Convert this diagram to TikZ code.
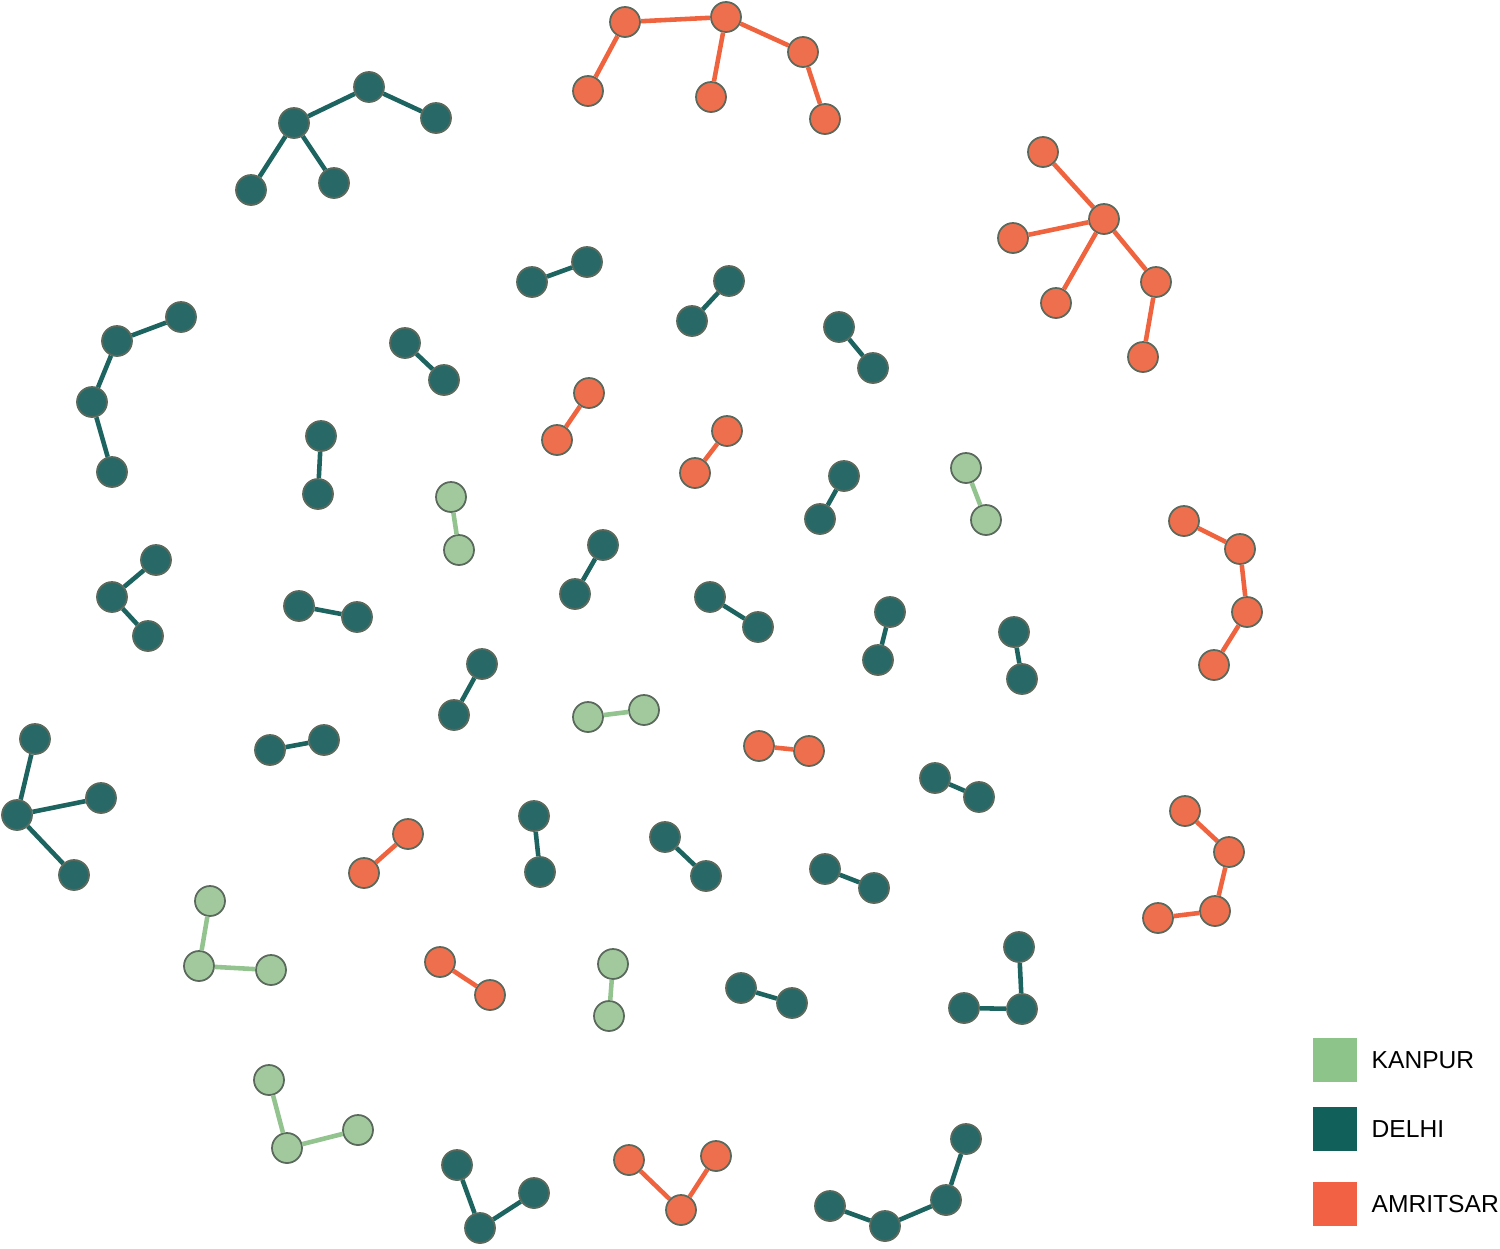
\documentclass[tikz,border=0pt]{standalone}
\usepackage{fontspec}
\setmainfont{Liberation Sans}
\usetikzlibrary{positioning}
\definecolor{kanpurKey}{HTML}{8CC489}
\definecolor{kanpurNode}{HTML}{A2C99E}
\definecolor{kanpurEdge}{HTML}{93C48F}
\definecolor{delhiKey}{HTML}{11615A}
\definecolor{delhiNode}{HTML}{286968}
\definecolor{delhiEdge}{HTML}{1D6460}
\definecolor{amritsarKey}{HTML}{F26144}
\definecolor{amritsarNode}{HTML}{EE6F4D}
\definecolor{amritsarEdge}{HTML}{F0633F}
\definecolor{rim}{HTML}{5A695C}

\begin{document}
\begin{tikzpicture}[
    x=0.02cm, y=-0.02cm,
    vtx/.style={circle, draw=rim, line width=1pt, minimum size=0.6cm, inner sep=0pt},
    vK/.style={vtx, fill=kanpurNode},
    vD/.style={vtx, fill=delhiNode},
    vA/.style={vtx, fill=amritsarNode},
    eK/.style={line width=2.6pt, kanpurEdge},
    eD/.style={line width=2.6pt, delhiEdge},
    eA/.style={line width=2.6pt, amritsarEdge},
    key/.style={minimum size=0.88cm, inner sep=0pt},
    keytext/.style={inner sep=0pt, font=\fontsize{14}{16}\selectfont},
  ]
  \useasboundingbox (0,0) rectangle (1500,1248);
  % ---- DELHI pairs
  \foreach \i/\ax/\ay/\bx/\by in {1/532/282/587/262, 2/692/321/729/281,
      3/839/327/873/368, 4/405/343/444/380, 5/321/436/318/494,
      6/844/476/820/519, 7/603/545/575/594, 8/710/597/758/627,
      9/890/612/878/660, 10/1014/632/1022/679, 11/299/606/357/617,
      12/482/664/454/715, 13/270/750/324/740, 14/935/778/979/797,
      15/534/816/540/872, 16/665/837/706/876, 17/825/869/874/888,
      18/741/988/792/1003} {
    \node[vD] (d\i-a) at (\ax,\ay) {};
    \node[vD] (d\i-b) at (\bx,\by) {};
    \draw[eD] (d\i-a) -- (d\i-b);
  }
  % ---- AMRITSAR pairs
  \foreach \i/\ax/\ay/\bx/\by in {1/589/393/557/440, 2/727/431/695/473,
      3/759/746/809/751, 4/408/834/364/873, 5/440/962/490/995} {
    \node[vA] (a\i-a) at (\ax,\ay) {};
    \node[vA] (a\i-b) at (\bx,\by) {};
    \draw[eA] (a\i-a) -- (a\i-b);
  }
  % ---- KANPUR pairs
  \foreach \i/\ax/\ay/\bx/\by in {1/451/497/459/550, 2/966/468/986/520,
      3/588/717/644/710, 4/613/964/609/1016} {
    \node[vK] (k\i-a) at (\ax,\ay) {};
    \node[vK] (k\i-b) at (\bx,\by) {};
    \draw[eK] (k\i-a) -- (k\i-b);
  }
  % ---- DELHI trees
  \node[vD] (tl1) at (369,87) {};
  \node[vD] (tl2) at (294,123) {};
  \node[vD] (tl3) at (436,118) {};
  \node[vD] (tl4) at (251,190) {};
  \node[vD] (tl5) at (334,183) {};
  \draw[eD] (tl1) -- (tl2) (tl1) -- (tl3) (tl2) -- (tl4) (tl2) -- (tl5);
  \node[vD] (ch1) at (181,317) {};
  \node[vD] (ch2) at (117,341) {};
  \node[vD] (ch3) at (92,402) {};
  \node[vD] (ch4) at (112,472) {};
  \draw[eD] (ch1) -- (ch2) -- (ch3) -- (ch4);
  \node[vD] (vl1) at (156,560) {};
  \node[vD] (vl2) at (112,597) {};
  \node[vD] (vl3) at (148,636) {};
  \draw[eD] (vl1) -- (vl2) -- (vl3);
  \node[vD] (st0) at (17,815) {};
  \node[vD] (st1) at (35,739) {};
  \node[vD] (st2) at (101,798) {};
  \node[vD] (st3) at (74,875) {};
  \draw[eD] (st0) -- (st1) (st0) -- (st2) (st0) -- (st3);
  \node[vD] (lr1) at (1019,947) {};
  \node[vD] (lr2) at (1022,1009) {};
  \node[vD] (lr3) at (964,1008) {};
  \draw[eD] (lr1) -- (lr2) -- (lr3);
  \node[vD] (bv1) at (457,1165) {};
  \node[vD] (bv2) at (480,1228) {};
  \node[vD] (bv3) at (534,1193) {};
  \draw[eD] (bv1) -- (bv2) -- (bv3);
  \node[vD] (bc1) at (830,1206) {};
  \node[vD] (bc2) at (885,1226) {};
  \node[vD] (bc3) at (946,1200) {};
  \node[vD] (bc4) at (966,1139) {};
  \draw[eD] (bc1) -- (bc2) -- (bc3) -- (bc4);
  % ---- AMRITSAR trees
  \node[vA] (at1) at (625,22) {};
  \node[vA] (at2) at (726,17) {};
  \node[vA] (at3) at (588,91) {};
  \node[vA] (at4) at (711,97) {};
  \node[vA] (at5) at (803,52) {};
  \node[vA] (at6) at (825,119) {};
  \draw[eA] (at1) -- (at2) (at1) -- (at3) (at2) -- (at4) (at2) -- (at5) (at5) -- (at6);
  \node[vA] (as0) at (1104,219) {};
  \node[vA] (as1) at (1043,152) {};
  \node[vA] (as2) at (1013,238) {};
  \node[vA] (as3) at (1056,303) {};
  \node[vA] (as4) at (1156,282) {};
  \node[vA] (as5) at (1143,357) {};
  \draw[eA] (as0) -- (as1) (as0) -- (as2) (as0) -- (as3) (as0) -- (as4) (as4) -- (as5);
  \node[vA] (ar1) at (1184,521) {};
  \node[vA] (ar2) at (1240,549) {};
  \node[vA] (ar3) at (1247,612) {};
  \node[vA] (ar4) at (1214,665) {};
  \draw[eA] (ar1) -- (ar2) -- (ar3) -- (ar4);
  \node[vA] (aq1) at (1185,811) {};
  \node[vA] (aq2) at (1229,852) {};
  \node[vA] (aq3) at (1215,911) {};
  \node[vA] (aq4) at (1158,918) {};
  \draw[eA] (aq1) -- (aq2) -- (aq3) -- (aq4);
  \node[vA] (av1) at (629,1160) {};
  \node[vA] (av2) at (681,1210) {};
  \node[vA] (av3) at (716,1156) {};
  \draw[eA] (av1) -- (av2) -- (av3);
  % ---- KANPUR trees
  \node[vK] (kl1) at (210,901) {};
  \node[vK] (kl2) at (199,966) {};
  \node[vK] (kl3) at (271,970) {};
  \draw[eK] (kl1) -- (kl2) -- (kl3);
  \node[vK] (km1) at (269,1080) {};
  \node[vK] (km2) at (287,1148) {};
  \node[vK] (km3) at (358,1130) {};
  \draw[eK] (km1) -- (km2) -- (km3);
  % ---- legend
  \node[key, fill=kanpurKey]   (keyK) at (1335,1060) {};
  \node[key, fill=delhiKey]    (keyD) at (1335,1129) {};
  \node[key, fill=amritsarKey] (keyA) at (1335,1204) {};
  \node[keytext, right=0.28cm of keyK] {KANPUR};
  \node[keytext, right=0.28cm of keyD] {DELHI};
  \node[keytext, right=0.28cm of keyA] {AMRITSAR};
\end{tikzpicture}
\end{document}
